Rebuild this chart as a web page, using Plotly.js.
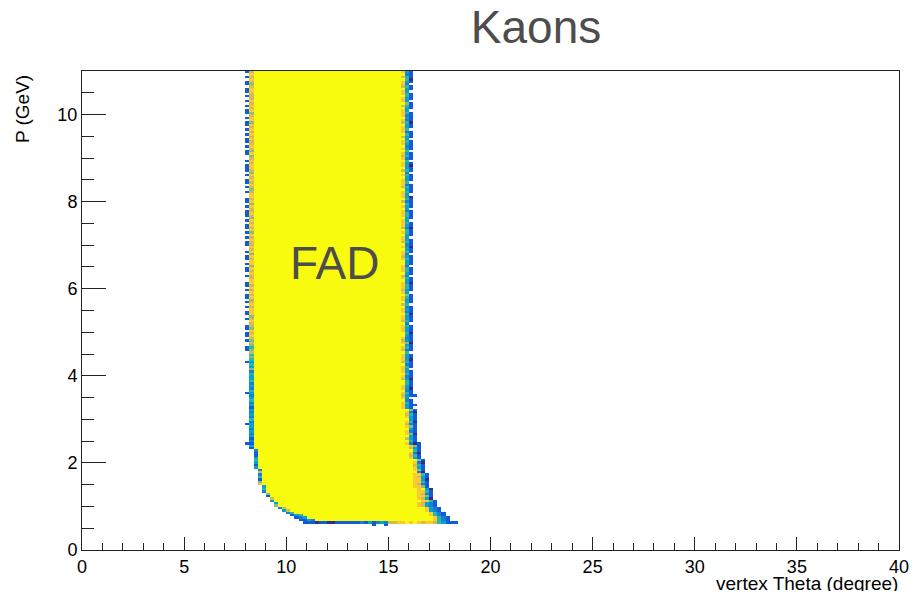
<!DOCTYPE html>
<html>
<head>
<meta charset="utf-8">
<script src="https://cdn.plot.ly/plotly-3.0.1.min.js"></script>
<style>
  html, body { margin: 0; padding: 0; background: #ffffff; }
  #plot { width: 914px; height: 595px; }
</style>
</head>
<body>
<div id="plot"></div>
<script>
// Binning of the theta-vs-momentum histogram
const thetaMin = 0, thetaMax = 40, thetaBinWidth = 0.2;
const pMin = 0, pMax = 11, pBinWidth = 0.055;

// Low-theta edge of the populated band: momentum where each step begins,
// theta of the first filled bin, and bin contents running inward (level 1-9, 9 = full)
const leftStepP     = [0.60, 0.66, 0.71, 0.77, 0.82, 0.88, 0.93, 0.99, 1.10, 1.21, 1.32, 1.48, 1.87, 2.31];
const leftStepTheta = [10.8, 10.6, 10.4, 10.2, 10.0, 9.8, 9.6, 9.4, 9.2, 9.0, 8.8, 8.6, 8.4, 8.2];
const leftStepCells = ["222122112222223242343", "2243", "234", "245", "35", "47", "37", "5", "4", "6", "5", "5", "4", "4"];

// High-theta edge: momentum where each step begins, theta where the last filled bin ends,
// and bin contents running outward to that edge
const rightStepP     = [0.60, 0.66, 0.77, 0.88, 0.99, 1.10, 1.15, 1.43, 1.76, 2.09, 2.42, 3.25];
const rightStepTheta = [18.4, 18.0, 17.8, 17.6, 17.4, 17.4, 17.2, 17.0, 16.8, 16.6, 16.4, 16.2];
const rightStepCells = ["77889898788754222", "8532", "8532", "8432", "87432", "8742", "8742", "8542", "842", "842", "842", "842"];

// Edge-bin contents per momentum bin, one character each
// ('.' keeps the step value, '0' leaves the bin empty)
const leftOuterRow = [
  "..........", "..........", "..........", "..........",
  "....2.....", "..2.......", ".....2....", "........2.",
  "...22..2.2", "2.22..2.22", ".2.2.22.2.", "22..2.22.2",
  ".22.2..22.", "2.2.22.2.2", "22.2.22..2", ".2.22.2.22",
  "2.2..22.2.", "22.2.2.22.", "2.22.2.2.2", ".22.22.2.2"
].join("");
const leftEdgeRow = [
  "..........", "........64", "4726354862", "5373424542",
  "2324232434", "3443534342", "4354345343", "5445364545",
  "6576567678", "7867787688", "8787687878", "7887787868",
  "8786878778", "7868787867", "8778687887", "6787878678",
  "8787686787", "7878787868", "8768787877", "7887678787"
].join("");
const rightInnerRow = [
  "..........", "..........", "8787898788", "7898878987",
  "8978897988", "9878987898", "8898789889", "9789888978",
  "8897898789", "9888978898", "8979889878", "8898798889",
  "9878898978", "8989788898", "8898979888", "9788898979",
  "8898789898", "8979888978", "9888979889", "8897889798"
].join("");
const rightMidRow = [
  "..........", "..........", "5463546354", "4536453645",
  "3546354463", "4635445364", "4534453445", "5435445354",
  "4453546434", "5445354453", "4354456445", "5445345534",
  "4543544354", "4455345445", "5344535445", "4535445354",
  "4453545434", "5445354453", "4354456445", "5445345534"
].join("");
const rightEdgeRow = [
  "..........", "..........", "2122212221", "2212221222",
  "1222122212", "2221222122", "2220222122", "2122202221",
  "2202221222", "1222022212", "2202222022", "2122022202",
  "2220221222", "0222122022", "2202222102", "2220222022",
  "1202220222", "2022202212", "2220222022", "2022021222"
].join("");

// Isolated entries outside the band
const strayP     = [0.575, 0.575, 2.45, 3.31, 3.56];
const strayTheta = [14.2, 14.8, 16.4, 16.2, 16.2];
const strayLevel = [2, 2, 2, 2, 2];

// ROOT "bird" palette
const birdScale = [
  [0.000, "rgb(53,42,135)"], [0.125, "rgb(15,92,221)"], [0.250, "rgb(20,129,214)"],
  [0.375, "rgb(6,164,202)"], [0.500, "rgb(46,183,164)"], [0.625, "rgb(135,191,119)"],
  [0.750, "rgb(209,187,89)"], [0.875, "rgb(254,200,50)"], [1.000, "rgb(249,251,14)"]
];

// ---- build the bin contents ----
const nx = Math.round((thetaMax - thetaMin) / thetaBinWidth);
const ny = Math.round((pMax - pMin) / pBinWidth);
const xCenters = [], yCenters = [];
for (let i = 0; i < nx; i++) xCenters.push(thetaMin + (i + 0.5) * thetaBinWidth);
for (let j = 0; j < ny; j++) yCenters.push(pMin + (j + 0.5) * pBinWidth);

const z = [];
for (let j = 0; j < ny; j++) z.push(new Array(nx).fill(null));

const binOf = th => Math.round((th - thetaMin) / thetaBinWidth);
const levelToZ = ch => (ch === "0") ? null : (Number(ch) - 1) / 8;
function stepFor(stepP, p) {
  let k = -1;
  for (let s = 0; s < stepP.length; s++) if (stepP[s] <= p + 1e-9) k = s;
  return k;
}
function setCell(j, i, ch) {
  if (i < 0 || i >= nx || j < 0 || j >= ny) return;
  z[j][i] = levelToZ(ch);
}

for (let j = 0; j < ny; j++) {
  const p = yCenters[j];
  const li = stepFor(leftStepP, p), ri = stepFor(rightStepP, p);
  if (li < 0 || ri < 0) continue;
  const L = binOf(leftStepTheta[li]);
  const R = binOf(rightStepTheta[ri]);
  const lc = leftStepCells[li].split("");
  const rc = rightStepCells[ri].split("");
  const n = rc.length;

  if (leftEdgeRow[j] && leftEdgeRow[j] !== ".") lc[0] = leftEdgeRow[j];
  if (rightEdgeRow[j] && rightEdgeRow[j] !== ".") rc[n - 1] = rightEdgeRow[j];
  if (n >= 2 && rightMidRow[j] && rightMidRow[j] !== ".") rc[n - 2] = rightMidRow[j];
  if (n >= 3 && rightInnerRow[j] && rightInnerRow[j] !== ".") rc[n - 3] = rightInnerRow[j];

  for (let i = L; i < R; i++) z[j][i] = 1;
  lc.forEach((ch, k) => setCell(j, L + k, ch));
  rc.forEach((ch, k) => setCell(j, R - n + k, ch));
  if (leftOuterRow[j] && leftOuterRow[j] !== ".") setCell(j, L - 1, leftOuterRow[j]);
}
strayP.forEach((p, s) => {
  const j = Math.floor((p - pMin) / pBinWidth);
  setCell(j, binOf(strayTheta[s]), String(strayLevel[s]));
});

// ---- plot ----
const FONT = "Liberation Sans, Arial, Helvetica, sans-serif";
const AXIS_COLOR = "#222222";

const trace = {
  type: "heatmap",
  x: xCenters,
  y: yCenters,
  z: z,
  zmin: 0,
  zmax: 1,
  colorscale: birdScale,
  showscale: false,
  zsmooth: false,
  hoverongaps: false
};

const layout = {
  width: 914,
  height: 595,
  margin: { l: 82, r: 15, t: 71, b: 45, pad: 0 },
  paper_bgcolor: "#ffffff",
  plot_bgcolor: "#ffffff",
  showlegend: false,
  title: {
    text: "Kaons",
    font: { family: FONT, size: 46, color: "#4d4d4d" },
    x: 536 / 914, xanchor: "center",
    y: 1 - 27 / 595, yanchor: "middle"
  },
  xaxis: {
    range: [thetaMin, thetaMax],
    tick0: 0, dtick: 5,
    ticks: "inside", ticklen: 13, tickwidth: 1, tickcolor: AXIS_COLOR,
    minor: { dtick: 1, ticks: "inside", ticklen: 7, tickwidth: 1, tickcolor: AXIS_COLOR, showgrid: false },
    showgrid: false, zeroline: false,
    showline: true, mirror: true, linecolor: AXIS_COLOR, linewidth: 1,
    tickfont: { family: FONT, size: 18, color: "#000000" }
  },
  yaxis: {
    range: [pMin, pMax],
    tick0: 0, dtick: 2,
    ticks: "inside", ticklen: 24, tickwidth: 1, tickcolor: AXIS_COLOR,
    minor: { dtick: 0.5, ticks: "inside", ticklen: 12, tickwidth: 1, tickcolor: AXIS_COLOR, showgrid: false },
    showgrid: false, zeroline: false,
    showline: true, mirror: true, linecolor: AXIS_COLOR, linewidth: 1,
    tickfont: { family: FONT, size: 18, color: "#000000" }
  },
  annotations: [
    {
      text: "vertex Theta (degree)",
      xref: "paper", yref: "paper",
      x: 1, xanchor: "right",
      y: -0.0501, yanchor: "top",
      height: 16, valign: "middle",
      borderpad: 0,
      showarrow: false,
      font: { family: FONT, size: 19, color: "#000000" }
    },
    {
      text: "P (GeV)",
      xref: "paper", yref: "paper",
      x: -0.072, xanchor: "center",
      y: 0.996, yanchor: "top",
      textangle: -90,
      showarrow: false,
      font: { family: FONT, size: 19, color: "#000000" }
    },
    {
      text: "FAD",
      xref: "x", yref: "y",
      x: 12.36, y: 6.6,
      xanchor: "center", yanchor: "middle",
      showarrow: false,
      font: { family: FONT, size: 46, color: "#4d4d4d" }
    }
  ]
};

Plotly.newPlot("plot", [trace], layout, { displayModeBar: false, staticPlot: true });
</script>
</body>
</html>
